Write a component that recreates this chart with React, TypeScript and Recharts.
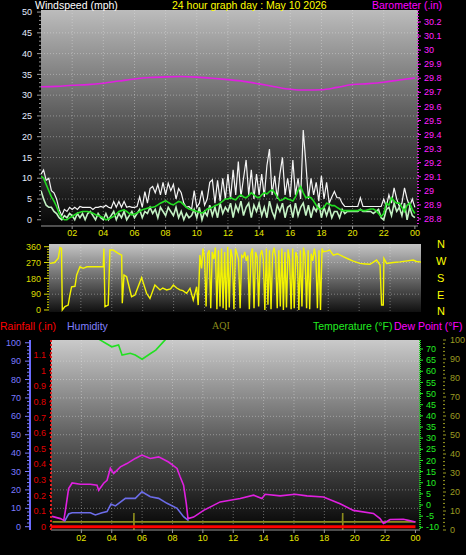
import React from "react";
import { LineChart, Line, XAxis, YAxis, CartesianGrid } from "recharts";

const FONT = "'Liberation Sans', Arial, sans-serif";

// x axis
const HOUR_TICKS = [2, 4, 6, 8, 10, 12, 14, 16, 18, 20, 22, 24];
const GRID_HOURS = [2, 4, 6, 8, 10, 12, 14, 16, 18, 20, 22];
const hourLabel = (h: number) => String(h % 24).padStart(2, "0");

// windspeed (mph), 10 minute samples 00:00 -> 24:00
const WIND_GUST = [
  11, 12, 9.5, 10, 7, 6.5,
  5, 2.5, 1, 2.5, 2, 3,
  2.5, 3, 2.5, 3.2, 3, 3,
  3, 3, 2.5, 3, 3, 3.2,
  3, 3.5, 3, 2.8, 4.4, 3,
  4.4, 3, 4.4, 3, 3.2, 3,
  3, 3.2, 5.5, 3, 6.8, 4,
  7.5, 8, 6.5, 8.5, 6, 9,
  6, 8.8, 7, 8.5, 5, 7.5,
  6.5, 4, 3, 3.2, 2.5, 7,
  3, 4, 7, 3.5, 5, 9,
  9.6, 4, 9.5, 4.5, 10, 5,
  11, 5, 12, 6, 14, 5.5,
  10, 14.4, 6, 12, 5, 11,
  6, 11, 5.5, 13, 17, 6,
  10.6, 5, 11, 15, 6, 10,
  5.5, 14.4, 6, 10, 5, 21.6,
  13.7, 5, 10, 6, 9, 4.5,
  10.6, 5, 9, 4, 5.5, 6.8,
  5.3, 5.3, 4, 3.2, 3.2, 3.2,
  3.2, 3.2, 3.2, 5.3, 3.2, 3.2,
  3.2, 3.2, 3.2, 3.2, 3.2, 3.2,
  5, 3.2, 6, 4, 7.7, 5,
  3.2, 4, 7.7, 5, 3.2, 5,
  3,
];
const WIND_SPEED = [
  7, 5, 3.5, 3, 3, 2,
  1.5, 0.5, 0, 1, 0.5, 1.5,
  1, 0, 1.5, 0.5, 1.5, 0,
  1.5, 2, 1, 0, 1.5, 0.5,
  0, 1.5, 0, 1, 2, 0,
  1.5, 0.5, 2, 0, 1, 2,
  0.5, 1.5, 2.5, 0.5, 2, 1.5,
  3, 1.5, 2.5, 0.5, 3, 2,
  1, 3, 2, 1, 3, 0.5,
  2, 0, 1.5, 0.5, 1, 2.5,
  0.5, 3, 0, 2, 1, 3.5,
  1, 3, 0.5, 4, 1.5, 3,
  2, 4, 0.5, 3.5, 2, 4.5,
  1, 3, 4, 0.5, 3.5, 2,
  4, 1, 3, 0.5, 4.5, 2,
  0.5, 3.5, 2, 4, 0.5, 3,
  3.5, 0.5, 4, 1, 3, 4,
  1, 3.5, 0.5, 3, 2, 4,
  0.5, 3, 1, 3, 0.5, 2,
  2, 0.5, 2.5, 1.5, 2, 2,
  2, 2, 2, 2.5, 2, 2,
  2, 2, 1.5, 2, 2.5, 0.5,
  0, 2.5, 3, 1, 4, 2,
  3, 1, 4, 0, 3, 1,
  0.5,
];
const WIND_AVG = [
  10.5, 10, 8.5, 7, 5.5, 4.5,
  3.2, 1.5, 0.5, 0, 0, 0.5,
  0.8, 1.2, 1.6, 1.8, 2, 2,
  2, 1.8, 1.6, 1.2, 1, 0.8,
  0.5, 0, 0.2, 0.5, 0.8, 1.4,
  2, 2.2, 2.4, 2, 1.5, 1.2,
  1.4, 1.6, 2, 2.4, 2.6, 2.8,
  3, 3, 3.2, 3.6, 4, 4.3,
  4.6, 4.2, 3.8, 3.6, 4, 4.4,
  4.2, 3.6, 3, 2.6, 2.4, 2.2,
  2, 1.8, 1.6, 2, 2.6, 2.8,
  3, 3.4, 3.6, 4, 4.5, 5,
  5, 5.3, 5, 4.8, 5.5, 6,
  5.5, 5.3, 5.8, 6.5, 6, 5.5,
  5.3, 6, 6.5, 6.2, 6.8, 7.2,
  6.5, 5.5, 4.6, 4.8, 5.3, 5,
  4.8, 4.5, 5.5, 7, 8, 6.5,
  5.3, 5.5, 5.3, 4.5, 3.5, 2.6,
  2.6, 3, 4, 3.8, 3.4, 3.4,
  3, 2.6, 2.2, 2.2, 2.2, 2.2,
  2.2, 2.2, 2.2, 2.4, 2.2, 2.2,
  2.4, 2.6, 2.6, 2.2, 1.5, 0.8,
  1.5, 4, 3.5, 5.3, 4.5, 4,
  4, 3, 2, 3.5, 4, 2.5,
  1.5,
];

// barometer (inHg)
const BARO_HOURS = [0, 1, 2, 3, 4, 5, 6, 7, 8, 9, 10, 11, 12, 13, 14, 15, 16, 17, 18, 19, 20, 21, 22, 23, 24];
const BARO_INHG = [
  29.74, 29.742, 29.75, 29.755, 29.765, 29.78, 29.795, 29.805, 29.81, 29.812, 29.808, 29.8, 29.79,
  29.778, 29.76, 29.74, 29.722, 29.716, 29.718, 29.735, 29.755, 29.762, 29.772, 29.788, 29.802,
];

// wind direction (degrees)
const DIR_HOURS = [
  0, 0.3, 0.54, 0.65, 0.75, 0.8, 0.97, 1.18, 1.29, 1.4, 1.62, 1.73, 1.94, 2.15, 2.4, 3.0, 3.45, 3.49, 3.56,
  3.77, 3.88, 4.09, 4.42, 4.64, 4.68, 4.79, 4.96, 5.28, 5.5, 5.93, 6.25, 6.47, 6.79, 7.12, 7.3, 7.55, 7.8,
  7.98, 8.2, 8.41, 8.6, 8.84, 9.06, 9.27, 9.49, 9.59, 9.7, 9.81,
  9.9, 10.0, 10.1, 10.2, 10.3, 10.4, 10.5, 10.6, 10.7, 10.8, 10.9, 11.0, 11.1, 11.2, 11.3, 11.4, 11.5,
  11.6, 11.7, 11.8, 11.9, 12.0, 12.1, 12.2, 12.3, 12.4, 12.5, 12.6, 12.7, 12.8, 12.9, 13.0, 13.1, 13.2,
  13.3, 13.4, 13.5, 13.6, 13.7, 13.8, 13.9, 14.0, 14.1, 14.2, 14.3, 14.4, 14.5, 14.6, 14.7, 14.8, 14.9,
  15.0, 15.1, 15.2, 15.3, 15.4, 15.5, 15.6, 15.7, 15.8, 15.9, 16.0, 16.1, 16.2, 16.3, 16.4, 16.5, 16.6,
  16.7, 16.8, 16.9, 17.0, 17.1, 17.2, 17.3, 17.4, 17.5, 17.6,
  17.68, 17.9, 18.1, 18.33, 18.6, 18.97, 19.3, 19.62, 20.05, 20.4, 20.7, 21.13, 21.35, 21.45, 21.56,
  21.6, 21.78, 22.2, 22.64, 23.0, 23.5, 23.7, 23.93, 24,
];
const DIR_DEG = [
  265, 270, 294, 355, 350, 0, 19, 28, 85, 132, 135, 199, 246, 237, 246, 246, 246, 350, 19,
  28, 341, 341, 322, 312, 38, 199, 189, 76, 85, 184, 95, 66, 142, 114, 125, 114, 120,
  142, 125, 114, 110, 95, 123, 57, 132, 28, 312, 237,
  350, 300, 20, 320, 340, 10, 330, 290, 355, 5, 340, 20, 350, 10, 330, 0, 360,
  15, 345, 300, 5, 350, 320, 290, 10, 310, 300, 330, 280, 310, 5, 320, 350, 10,
  330, 300, 20, 310, 340, 290, 0, 350, 30, 340, 5, 320, 355, 300, 10, 340, 20,
  350, 0, 330, 15, 345, 290, 5, 350, 10, 330, 300, 0, 340, 20, 355, 310, 10,
  340, 5, 320, 280, 350, 300, 10, 340, 0, 350,
  331, 335, 341, 312, 320, 303, 290, 278, 265, 262, 260, 284, 256, 28, 28,
  294, 265, 270, 274, 278, 284, 276, 274, 272,
];

// temperature (°F)
const TEMP_HOURS = [0, 1, 2, 3, 3.25, 3.8, 4.0, 4.45, 4.68, 5.22, 5.55, 6.0, 6.58, 6.9, 7.41, 7.64, 8, 9, 10, 12, 14, 16, 18, 20, 22, 24];
const TEMP_F = [80, 78.5, 77, 75, 74, 71.8, 71, 71.8, 67.3, 68.1, 67.3, 65.4, 68.1, 69.5, 73.3, 75, 77, 80, 83, 88, 92, 93, 90, 86, 83, 80];

// dew point (°F)
const DEW_HOURS = [
  0.07, 0.62, 0.84, 0.95, 1.16, 1.39, 1.93, 2.59, 3.03, 3.14, 3.47, 3.69, 3.91, 4.13, 4.57, 5.0, 5.55, 5.99,
  6.54, 7.09, 7.74, 8.3, 8.51, 8.73, 8.91, 9.02, 9.39, 10.05, 11.14, 12.46, 13.34, 13.89, 14.1, 15.09, 16.07,
  16.85, 17.94, 19.04, 19.91, 21.23, 21.67, 21.89, 22.33, 23.2, 23.53, 24,
];
const DEW_F = [
  -5.1, -6.1, -6.9, -2.4, 7.4, 9.9, 9.3, 9.3, 8.9, 6.6, 9.8, 11.1, 16.5, 14.1, 17.1, 18.6, 20.9, 22.4,
  20.9, 21.6, 19.3, 16.4, 12.6, 8.9, 0.6, -6.1, -5.4, -2.4, 1.4, 2.9, 4.4, 2.9, 4.8, 4.1, 4.8,
  4.1, 3.6, 0.6, -2.4, -3.8, -6.1, -8.3, -6.5, -6.4, -6.9, -7.6,
];

// humidity (%)
const HUM_HOURS = [0.88, 1.16, 1.39, 2.59, 2.92, 3.36, 3.69, 3.95, 4.24, 4.9, 5.55, 5.99, 6.54, 7.09, 7.64, 8.3, 8.73, 9.06];
const HUM_PCT = [2.7, 6.9, 7.6, 7.6, 6.4, 7.6, 8.2, 12.3, 11.3, 15.4, 15.4, 19, 16.3, 15.4, 12.7, 10, 5.4, 3.3];

// rainfall (in)
const RAIN_HOURS = [0, 24];
const RAIN_IN = [0, 0];

// AQI
const AQI_HOURS = [0.1, 5.45, 5.46, 5.46, 5.47, 19.2, 19.21, 19.21, 19.22, 24];
const AQI_VAL = [4.3, 4.3, 9, -1, 4.3, 4.3, 9, -1, 4.3, 4.3];

// axis ticks
const WIND_TICKS = [0, 5, 10, 15, 20, 25, 30, 35, 40, 45, 50];
const BARO_TICKS = [28.8, 28.9, 29, 29.1, 29.2, 29.3, 29.4, 29.5, 29.6, 29.7, 29.8, 29.9, 30, 30.1, 30.2];
const DIR_TICKS = [0, 90, 180, 270, 360];
const HUM_TICKS = [0, 10, 20, 30, 40, 50, 60, 70, 80, 90, 100];
const RAIN_TICKS = [0, 0.1, 0.2, 0.3, 0.4, 0.5, 0.6, 0.7, 0.8, 0.9, 1, 1.1];
const TEMP_TICKS = [-10, -5, 0, 5, 10, 15, 20, 25, 30, 35, 40, 45, 50, 55, 60, 65, 70];
const AQI_TICKS = [0, 10, 20, 30, 40, 50, 60, 70, 80, 90, 100];

const withMinors = (majors: number[], step: number) => {
  const out: number[] = [];
  const lo = majors[0];
  const hi = majors[majors.length - 1];
  const n = Math.round((hi - lo) / step);
  for (let i = 0; i <= n; i++) out.push(+(lo + i * step).toFixed(4));
  return out;
};

const windData = WIND_GUST.map((g, i) => ({ h: i / 6, gust: g, speed: WIND_SPEED[i], avg: WIND_AVG[i] }));
const zip = (hs: number[], vs: number[]) => hs.map((h, i) => ({ h, v: vs[i] }));
const baroData = zip(BARO_HOURS, BARO_INHG);
const dirData = zip(DIR_HOURS, DIR_DEG);
const tempData = zip(TEMP_HOURS, TEMP_F);
const dewData = zip(DEW_HOURS, DEW_F);
const humData = zip(HUM_HOURS, HUM_PCT);
const rainData = zip(RAIN_HOURS, RAIN_IN);
const aqiData = zip(AQI_HOURS, AQI_VAL);

type TickStyle = {
  color: string;
  side: "left" | "right";
  majors: number[];
  fmt?: (v: number) => string;
  len?: number;
  minorLen?: number;
  gap?: number;
  tickColor?: string;
};

const axisTick = (s: TickStyle) => (p: any) => {
  const v = p.payload.value;
  const d = s.side === "left" ? -1 : 1;
  const big = s.majors.some((m) => Math.abs(m - v) < 1e-6);
  const len = big ? s.len ?? 4 : s.minorLen ?? 2;
  const gap = s.gap ?? 3;
  return (
    <g>
      <line x1={p.x} x2={p.x + d * len} y1={p.y} y2={p.y} stroke={s.tickColor ?? s.color} strokeWidth={1} />
      {big && (
        <text
          x={p.x + d * ((s.len ?? 4) + gap)}
          y={p.y}
          dy="0.35em"
          textAnchor={d < 0 ? "end" : "start"}
          fill={s.color}
          fontSize={9}
          fontFamily={FONT}
        >
          {s.fmt ? s.fmt(v) : String(v)}
        </text>
      )}
    </g>
  );
};

const xTick = { fill: "#e6e600", fontSize: 9, fontFamily: FONT };
const gridStroke = "#e8e8e8";

const label = (text: string, color: string, left: number, top: number, size = 10.5, family = FONT) => (
  <div style={{ position: "absolute", left, top, color, fontSize: size, fontFamily: family, whiteSpace: "nowrap", lineHeight: 1 }}>
    {text}
  </div>
);

const WindPanel = () => (
  <LineChart width={466} height={240} data={windData} margin={{ top: 10, right: 0, bottom: 0, left: 0 }}>
    <defs>
      <linearGradient id="bgTop" x1="0" y1="0" x2="0" y2="1">
        <stop offset="0" stopColor="#bcbcbc" />
        <stop offset="0.5" stopColor="#5a5a5a" />
        <stop offset="1" stopColor="#060606" />
      </linearGradient>
    </defs>
    <CartesianGrid
      yAxisId="wind"
      fill="url(#bgTop)"
      fillOpacity={1}
      stroke={gridStroke}
      strokeOpacity={0.4}
      strokeDasharray="1 2"
      horizontalValues={WIND_TICKS.slice(1, -1)}
      verticalValues={GRID_HOURS}
    />
    <XAxis
      type="number"
      dataKey="h"
      domain={[0, 24.2]}
      ticks={HOUR_TICKS}
      tickFormatter={hourLabel}
      height={14}
      tick={xTick}
      tickSize={3}
      tickMargin={1}
      stroke="#9a9a9a"
      allowDataOverflow
    />
    <YAxis
      yAxisId="wind"
      width={41}
      domain={[-1.5, 50.5]}
      ticks={withMinors(WIND_TICKS, 1)}
      interval={0}
      tick={axisTick({ color: "#e4ecff", side: "left", majors: WIND_TICKS, tickColor: "#9a9a9a", len: 4, gap: 5 })}
      tickSize={0}
      tickMargin={0}
      axisLine={false}
      tickLine={false}
      allowDataOverflow
    />
    <YAxis
      yAxisId="baro"
      orientation="right"
      width={48}
      domain={[28.75, 30.285]}
      ticks={BARO_TICKS}
      interval={0}
      tick={axisTick({ color: "#ff20ff", side: "right", majors: BARO_TICKS, len: 3, gap: 3, fmt: (v) => String(+v.toFixed(1)) })}
      tickSize={0}
      tickMargin={0}
      axisLine={{ stroke: "#e020e0", strokeDasharray: "1 2", strokeWidth: 2 }}
      tickLine={false}
      allowDataOverflow
    />
    <Line yAxisId="wind" dataKey="gust" stroke="#f4f4f4" strokeWidth={1.2} dot={false} isAnimationActive={false} />
    <Line yAxisId="wind" dataKey="speed" stroke="#c4f2c4" strokeWidth={1.6} dot={false} isAnimationActive={false} />
    <Line yAxisId="wind" dataKey="avg" stroke="#22dd22" strokeWidth={1.6} dot={false} isAnimationActive={false} />
    <Line yAxisId="baro" data={baroData} dataKey="v" type="monotone" stroke="#e020e0" strokeWidth={1.6} dot={false} isAnimationActive={false} />
  </LineChart>
);

const DirectionPanel = () => (
  <LineChart width={466} height={76} data={dirData} margin={{ top: 4, right: 45, bottom: 4, left: 0 }}>
    <defs>
      <linearGradient id="bgMid" x1="0" y1="0" x2="0" y2="1">
        <stop offset="0" stopColor="#c4c4c4" />
        <stop offset="1" stopColor="#101010" />
      </linearGradient>
    </defs>
    <CartesianGrid
      yAxisId="dir"
      fill="url(#bgMid)"
      fillOpacity={1}
      stroke={gridStroke}
      strokeOpacity={0.4}
      strokeDasharray="1 2"
      horizontalValues={[90, 180, 270]}
      verticalValues={GRID_HOURS}
    />
    <XAxis type="number" dataKey="h" domain={[-0.06, 24]} hide allowDataOverflow />
    <YAxis
      yAxisId="dir"
      width={49}
      domain={[-11.4, 375.4]}
      ticks={withMinors(DIR_TICKS, 15)}
      interval={0}
      tick={axisTick({ color: "#dcdc00", side: "left", majors: DIR_TICKS, len: 5, gap: 3 })}
      tickSize={0}
      tickMargin={0}
      axisLine={false}
      tickLine={false}
      allowDataOverflow
    />
    <Line yAxisId="dir" dataKey="v" stroke="#f4f400" strokeWidth={1.4} dot={false} isAnimationActive={false} />
  </LineChart>
);

// axis ids are prefixed so the axis nearest the plot comes first
const ClimatePanel = () => (
  <LineChart width={466} height={225} margin={{ top: 10, right: 0, bottom: 0, left: 0 }}>
    <defs>
      <linearGradient id="bgBot" x1="0" y1="0" x2="0" y2="1">
        <stop offset="0" stopColor="#cacaca" />
        <stop offset="0.5" stopColor="#606060" />
        <stop offset="1" stopColor="#050505" />
      </linearGradient>
    </defs>
    <CartesianGrid
      yAxisId="b_hum"
      fill="url(#bgBot)"
      fillOpacity={1}
      stroke={gridStroke}
      strokeOpacity={0.4}
      strokeDasharray="1 2"
      horizontalValues={HUM_TICKS.slice(1, -1)}
      verticalValues={GRID_HOURS}
    />
    <XAxis
      type="number"
      dataKey="h"
      domain={[0, 24.3]}
      ticks={HOUR_TICKS}
      tickFormatter={hourLabel}
      height={25}
      tick={xTick}
      tickSize={3}
      tickMargin={2}
      stroke="#9a9a9a"
      allowDataOverflow
    />
    <YAxis
      yAxisId="a_rain"
      width={21}
      domain={[-0.021, 1.197]}
      ticks={RAIN_TICKS}
      interval={0}
      tick={axisTick({ color: "#e00000", side: "left", majors: RAIN_TICKS, len: 2, gap: 3, fmt: (v) => String(+v.toFixed(1)) })}
      tickSize={0}
      tickMargin={0}
      axisLine={{ stroke: "#e02020", strokeDasharray: "2 2", strokeWidth: 2 }}
      tickLine={false}
      allowDataOverflow
    />
    <YAxis
      yAxisId="b_hum"
      width={30}
      domain={[-1.8, 101.5]}
      ticks={withMinors(HUM_TICKS, 2)}
      interval={0}
      tick={axisTick({ color: "#7b7bff", side: "left", majors: HUM_TICKS, len: 5, minorLen: 3, gap: 4 })}
      tickSize={0}
      tickMargin={0}
      axisLine={{ stroke: "#6a6aff", strokeWidth: 2 }}
      tickLine={false}
      allowDataOverflow
    />
    <YAxis
      yAxisId="a_temp"
      orientation="right"
      width={23}
      domain={[-11.21, 74.04]}
      ticks={TEMP_TICKS}
      interval={0}
      tick={axisTick({ color: "#22ee22", side: "right", majors: TEMP_TICKS, len: 3, gap: 3 })}
      tickSize={0}
      tickMargin={0}
      axisLine={{ stroke: "#20d020", strokeDasharray: "1 1", strokeWidth: 2 }}
      tickLine={false}
      allowDataOverflow
    />
    <YAxis
      yAxisId="b_aqi"
      orientation="right"
      width={23}
      domain={[0, 100]}
      ticks={withMinors(AQI_TICKS, 2)}
      interval={0}
      tick={axisTick({ color: "#9c9c20", side: "right", majors: AQI_TICKS, len: 3, minorLen: 2, gap: 4 })}
      tickSize={0}
      tickMargin={0}
      axisLine={false}
      tickLine={false}
      allowDataOverflow
    />
    <Line yAxisId="b_aqi" data={aqiData} dataKey="v" stroke="#8c8c1c" strokeWidth={1.6} dot={false} isAnimationActive={false} />
    <Line yAxisId="b_hum" data={humData} dataKey="v" stroke="#6c6ce8" strokeWidth={1.6} dot={false} isAnimationActive={false} />
    <Line yAxisId="a_temp" data={dewData} dataKey="v" stroke="#e020e0" strokeWidth={1.6} dot={false} isAnimationActive={false} />
    <Line yAxisId="a_temp" data={tempData} dataKey="v" stroke="#22e022" strokeWidth={1.6} dot={false} isAnimationActive={false} />
    <Line yAxisId="a_rain" data={rainData} dataKey="v" stroke="#ff0000" strokeWidth={3} dot={false} isAnimationActive={false} />
  </LineChart>
);

export default function App() {
  return (
    <div style={{ position: "absolute", left: 0, top: 0, width: 466, height: 555, background: "#000", overflow: "hidden" }}>
      <div style={{ position: "absolute", left: 0, top: 0 }}>
        <WindPanel />
      </div>
      <div style={{ position: "absolute", left: 0, top: 240 }}>
        <DirectionPanel />
      </div>
      <div style={{ position: "absolute", left: 0, top: 330 }}>
        <ClimatePanel />
      </div>
      {label("Windspeed (mph)", "#ffffff", 35, 0)}
      {label("24 hour graph day : May 10 2026", "#ffff00", 172, 0)}
      {label("Barometer (.in)", "#ff00ff", 372, 0)}
      {label("N", "#ffff00", 437, 239, 11)}
      {label("W", "#ffff00", 436, 256, 11)}
      {label("S", "#ffff00", 437, 273, 11)}
      {label("E", "#ffff00", 437, 290, 11)}
      {label("N", "#ffff00", 437, 306, 11)}
      {label("Rainfall (.in)", "#ff0000", 0, 321)}
      {label("Humidity", "#8080ff", 67, 321)}
      {label("AQI", "#8c8c1c", 212, 321, 10, "'Liberation Serif', serif")}
      {label("Temperature (°F)", "#22ee22", 313, 321)}
      {label("Dew Point (°F)", "#ff00ff", 394, 321)}
    </div>
  );
}
